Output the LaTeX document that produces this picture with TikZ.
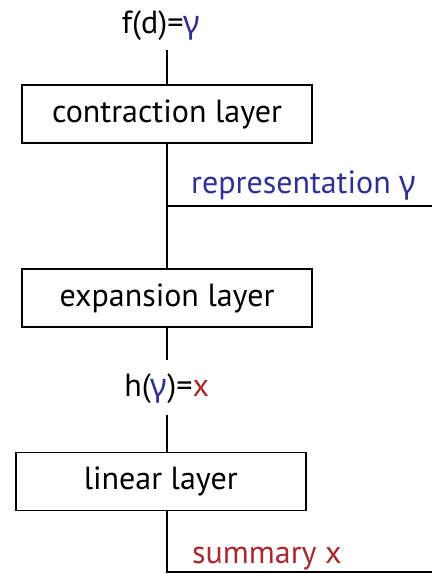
\documentclass[tikz,border=0pt]{standalone}
\usepackage{fontspec}
\setmainfont{PT Sans}
\newfontfamily\grk{Noto Sans}
\definecolor{repblue}{HTML}{2E3192}
\definecolor{sumred}{HTML}{A8292F}
\newcommand{\gam}{{\grk γ}}
\begin{document}
\begin{tikzpicture}[x=1pt,y=-1pt,
  every node/.style={font=\fontsize{32}{38}\selectfont},
  layerbox/.style={draw, line width=1.8pt, minimum width=290pt, minimum height=58pt, inner sep=0pt},
  wire/.style={line width=1.8pt},
  label/.style={inner sep=0pt}]
  \useasboundingbox (0,0) rectangle (432,574);

  % layer boxes
  \node[layerbox] (contraction) at (167,114) {contraction layer};
  \node[layerbox] (expansion) at (167,298) {expansion layer};
  \node[layerbox] (linear) at (160.7,481.5) {linear layer};

  % the spine the wires run along
  \coordinate (spine) at (166.7,0);

  % text labels
  \node[label, anchor=base] (f) at (161,33) {f(d)=\textcolor{repblue}{\gam}};
  \node[label, anchor=base west] (rep) at (191,193) {\textcolor{repblue}{representation \gam}};
  \node[label, anchor=base] (h) at (166.7,396) {h(\textcolor{repblue}{\gam})=\textcolor{sumred}{x}};
  \node[label, anchor=base west] (sum) at (192,563) {\textcolor{sumred}{summary x}};

  % wire ends next to the labels
  \coordinate (ftop) at (166.7,50);
  \coordinate (habove) at (166.7,360);
  \coordinate (hbelow) at (166.7,415);

  % branch points and free ends
  \coordinate (repbranch) at (166.7,205.7);
  \coordinate (repend) at (432,205.7);
  \coordinate (sumend) at (432,572);

  % wires
  \draw[wire] (ftop) -- (contraction.north -| spine);
  \draw[wire] (contraction.south -| spine) -- (expansion.north -| spine);
  \draw[wire] (repbranch) -- (repend);
  \draw[wire] (expansion.south -| spine) -- (habove);
  \draw[wire] (hbelow) -- (linear.north -| spine);
  \draw[wire] (linear.south -| spine) |- (sumend);
\end{tikzpicture}
\end{document}
